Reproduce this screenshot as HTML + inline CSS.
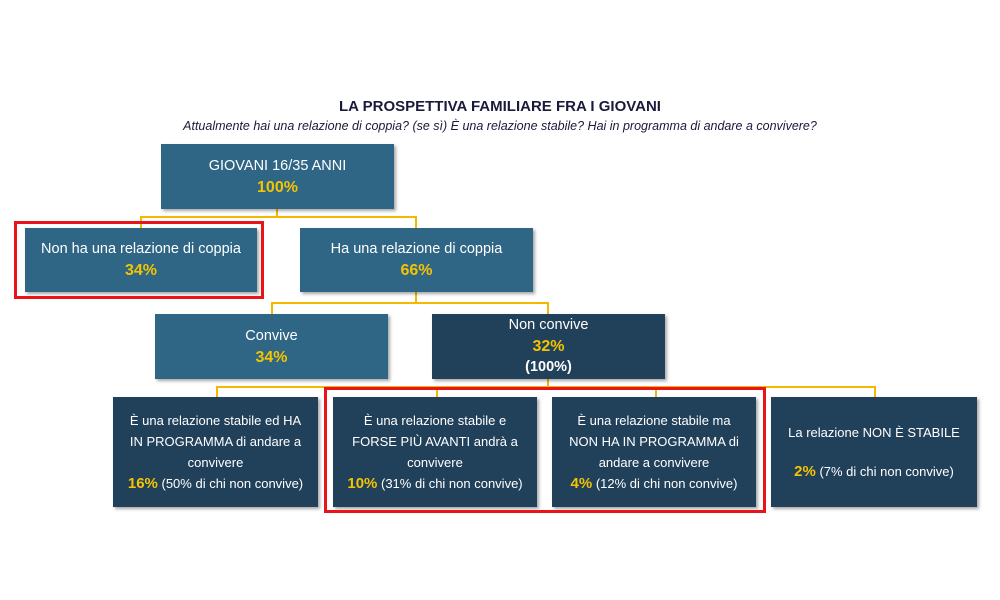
<!DOCTYPE html>
<html><head><meta charset="utf-8"><style>
body{margin:0;width:1000px;height:600px;background:#fff;position:relative;font-family:"Liberation Sans","DejaVu Sans",sans-serif;overflow:hidden}
.b{position:absolute;color:#fff;text-align:center;display:flex;flex-direction:column;justify-content:center;align-items:center;box-shadow:2px 2px 3px rgba(0,0,0,.35);font-size:14.5px;line-height:21px}
.l{background:#2f6686}.d{background:#21405a}
.y{color:#f5c400;font-weight:bold;font-size:16px}
.h{position:absolute;background:#f5b800;height:2px}
.v{position:absolute;background:#f5b800;width:2px}
.r{position:absolute;border:3px solid #e8141a}
.bt{font-size:13px;line-height:21px;white-space:nowrap}
.bt .y{font-size:15px}
</style></head><body>
<div style="position:absolute;left:0;width:1000px;top:98px;text-align:center;font-weight:bold;font-size:15px;color:#1a1a3a">LA PROSPETTIVA FAMILIARE FRA I GIOVANI</div>
<div style="position:absolute;left:0;width:1000px;top:119px;text-align:center;font-style:italic;font-size:12.5px;color:#1a1a3a">Attualmente hai una relazione di coppia? (se sì) È una relazione stabile? Hai in programma di andare a convivere?</div>

<div class="v" style="left:276px;top:209px;height:9px"></div>
<div class="h" style="left:140px;top:216px;width:277px"></div>
<div class="v" style="left:140px;top:216px;height:12px"></div>
<div class="v" style="left:415px;top:216px;height:12px"></div>
<div class="v" style="left:415px;top:292px;height:11px"></div>
<div class="h" style="left:271px;top:302px;width:278px"></div>
<div class="v" style="left:271px;top:302px;height:12px"></div>
<div class="v" style="left:547px;top:302px;height:12px"></div>
<div class="v" style="left:547px;top:379px;height:9px"></div>
<div class="h" style="left:216px;top:386px;width:660px"></div>
<div class="v" style="left:216px;top:386px;height:11px"></div>
<div class="v" style="left:436px;top:386px;height:11px"></div>
<div class="v" style="left:655px;top:386px;height:11px"></div>
<div class="v" style="left:874px;top:386px;height:11px"></div>

<div class="b l" style="left:161px;top:144px;width:233px;height:65px"><div>GIOVANI 16/35 ANNI</div><div class="y">100%</div></div>
<div class="b l" style="left:25px;top:228px;width:232px;height:64px"><div>Non ha una relazione di coppia</div><div class="y">34%</div></div>
<div class="r" style="left:14px;top:221px;width:244px;height:72px"></div>
<div class="b l" style="left:300px;top:228px;width:233px;height:64px"><div>Ha una relazione di coppia</div><div class="y">66%</div></div>
<div class="b l" style="left:155px;top:314px;width:233px;height:65px"><div>Convive</div><div class="y">34%</div></div>
<div class="b d" style="left:432px;top:314px;width:233px;height:65px;justify-content:flex-start;padding-top:1px;box-sizing:border-box"><div>Non convive</div><div class="y">32%</div><div style="font-weight:bold">(100%)</div></div>

<div class="b d bt" style="left:113px;top:397px;width:205px;height:110px"><div>È una relazione stabile ed HA<br>IN PROGRAMMA di andare a<br>convivere</div><div><span class="y">16%</span> (50% di chi non convive)</div></div>
<div class="b d bt" style="left:333px;top:397px;width:204px;height:110px"><div>È una relazione stabile e<br>FORSE PIÙ AVANTI andrà a<br>convivere</div><div><span class="y">10%</span> (31% di chi non convive)</div></div>
<div class="b d bt" style="left:552px;top:397px;width:204px;height:110px"><div>È una relazione stabile ma<br>NON HA IN PROGRAMMA di<br>andare a convivere</div><div><span class="y">4%</span> (12% di chi non convive)</div></div>
<div class="b d bt" style="left:771px;top:397px;width:206px;height:110px"><div>La relazione NON È STABILE</div><div style="height:18px"></div><div><span class="y">2%</span> (7% di chi non convive)</div></div>
<div class="r" style="left:324px;top:387px;width:436px;height:120px"></div>
</body></html>
